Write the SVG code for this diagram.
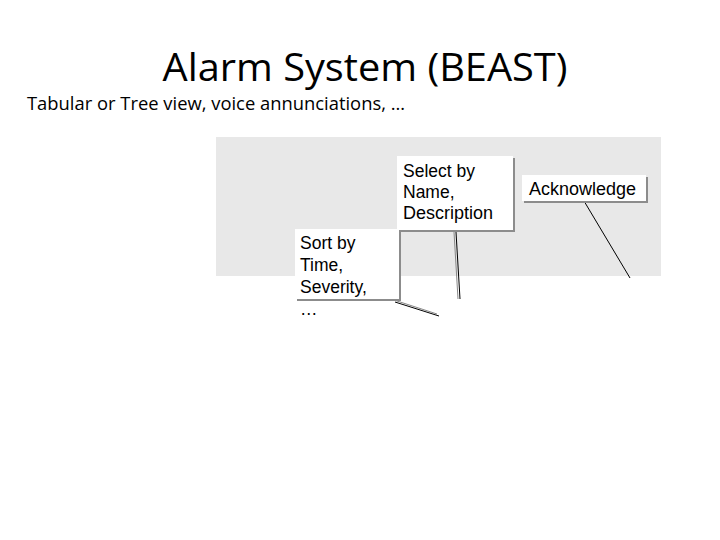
<svg xmlns="http://www.w3.org/2000/svg" width="720" height="540" viewBox="0 0 720 540">
<style>
.t{font-family:"Open Sans","Liberation Sans",sans-serif;fill:#000}
.c{font-family:"Liberation Sans",Arial,sans-serif;font-size:17.5px;fill:#000}
.sh{fill:#8c8c8c}
.bx{fill:#fff}
.ln{stroke:#000;stroke-width:1;fill:none}
.lg{stroke:#888;stroke-width:1;fill:none}
</style>
<rect width="720" height="540" fill="#fff"/>
<text class="t" x="365" y="81" font-size="39" text-anchor="middle" textLength="405" lengthAdjust="spacingAndGlyphs">Alarm System (BEAST)</text>
<text class="t" x="27" y="110" font-size="19" textLength="378" lengthAdjust="spacingAndGlyphs">Tabular or Tree view, voice annunciations, …</text>
<rect x="216" y="137" width="445" height="139" fill="#e8e8e8"/>
<g id="connectors">
<line class="lg" x1="394" y1="300" x2="437" y2="314"/>
<line class="ln" x1="395" y1="302" x2="439" y2="316"/>
<line class="lg" x1="454" y1="232" x2="458" y2="299"/>
<line class="ln" x1="456" y1="232" x2="460" y2="299"/>
<line class="ln" x1="584" y1="201" x2="630" y2="278"/>
</g>
<g id="select">
<rect class="sh" x="399" y="158" width="116" height="74"/>
<rect class="bx" x="397" y="156" width="116" height="74"/>
<text class="c" x="403" y="177">Select by</text>
<text class="c" x="403" y="198">Name,</text>
<text class="c" x="403" y="219" textLength="90" lengthAdjust="spacingAndGlyphs">Description</text>
</g>
<g id="sort">
<rect class="sh" x="297" y="231" width="104" height="70"/>
<rect class="bx" x="295" y="229" width="104" height="70"/>
<text class="c" x="300" y="249">Sort by</text>
<text class="c" x="300" y="271">Time,</text>
<text class="c" x="300" y="293">Severity,</text>
<text class="c" x="300" y="315">…</text>
</g>
<g id="ack">
<rect class="sh" x="524" y="177" width="124" height="26"/>
<rect class="bx" x="522" y="175" width="124" height="26"/>
<text class="c" x="529" y="195" textLength="107" lengthAdjust="spacingAndGlyphs">Acknowledge</text>
</g>
</svg>
